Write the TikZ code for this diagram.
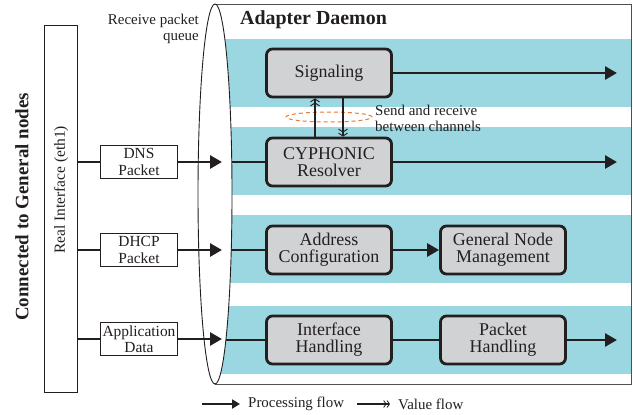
\documentclass[tikz,border=0pt]{standalone}
\usepackage{fontspec}
\setmainfont{Liberation Serif}
\usetikzlibrary{arrows.meta,calc,shapes.geometric}
\definecolor{band}{RGB}{155,215,224}
\definecolor{boxgray}{RGB}{209,210,212}
\definecolor{txt}{RGB}{35,31,32}
\definecolor{dashor}{RGB}{232,120,50}
\definecolor{framecol}{RGB}{80,80,80}
\begin{document}
\begin{tikzpicture}[x=1bp,y=-1bp,
  bigbox/.style={draw=txt, fill=boxgray, line width=2.8bp, rounded corners=6bp,
    minimum width=125bp, minimum height=48bp, align=center, inner sep=0pt,
    font=\rmfamily\fontsize{18}{17}\selectfont, text=txt},
  smallbox/.style={draw=txt, fill=white, line width=1.3bp, minimum width=77bp,
    minimum height=33bp, align=center, inner sep=0pt,
    font=\rmfamily\fontsize{15.5}{16.5}\selectfont, text=txt},
  pline/.style={draw=txt, line width=2.8bp},
  pflow/.style={draw=txt, line width=2.8bp, -{Triangle[length=12bp,width=13bp]}},
  vflow/.style={draw=txt, line width=2.8bp,
    -{Straight Barb[length=3bp,width=9bp,line width=0.9bp]Straight Barb[length=3bp,width=9bp,line width=0.9bp]}},
  lbl/.style={text=txt, inner sep=0pt, font=\rmfamily\fontsize{15}{16}\selectfont}
]
\useasboundingbox (0,0) rectangle (633,414);

% bands
\fill[band] (215,39) rectangle (631,107);
\fill[band] (215,127) rectangle (631,195);
\fill[band] (215,215) rectangle (631,283);
\fill[band] (215,306) rectangle (631,374);

% daemon frame and queue ellipse
\draw[framecol, line width=1bp] (215,4) -- (631,4) -- (631,384) -- (215,384);
\draw[txt, fill=white, line width=0.9bp] (215,194) ellipse [x radius=17bp, y radius=190bp];

% real interface
\node[draw=txt, line width=1.3bp, minimum width=33bp, minimum height=367bp, inner sep=0pt] (ri) at (61,209) {};
\node[text=txt, inner sep=0pt, rotate=90, font=\rmfamily\fontsize{15.5}{16}\selectfont] (ritxt) at (61,190) {Real Interface (eth1)};
\node[text=txt, inner sep=0pt, rotate=90, font=\rmfamily\fontsize{19}{20}\selectfont\bfseries] (conn) at (22,207) {Connected to General nodes};

% labels
\node[lbl, anchor=east, align=right] (rpq) at (199,29) {Receive packet\\queue};
\node[lbl, anchor=west, font=\rmfamily\fontsize{20}{22}\selectfont\bfseries] (ad) at (240,20) {Adapter Daemon};
\node[lbl, anchor=west, align=left] (sr) at (375,118) {Send and receive\\between channels};

% small boxes
\node[smallbox] (dns) at (139,162) {DNS\\Packet};
\node[smallbox] (dhcp) at (139,250) {DHCP\\Packet};
\node[smallbox] (app) at (139,339) {Application\\Data};

% big boxes
\node[draw=dashor, dashed, line width=1bp, ellipse, minimum width=86bp, minimum height=10bp, inner sep=0pt, dash pattern=on 4bp off 3bp] (chan) at (329,117) {};
\node[bigbox] (sig) at (329,73) {Signaling};
\node[bigbox] (cyp) at (329,162) {CYPHONIC\\Resolver};
\node[bigbox] (addr) at (329,250) {Address\\Configuration};
\node[bigbox] (gnm) at (503,250) {General Node\\Management};
\node[bigbox] (ifh) at (329,340) {Interface\\Handling};
\node[bigbox] (pkh) at (503,340) {Packet\\Handling};

% coordinates
\coordinate (q1) at (222,162);
\coordinate (q2) at (222,250);
\coordinate (q3) at (222,339);
\coordinate (e1) at (231.7,162);
\coordinate (e2) at (231.2,250);
\coordinate (e3) at (225.9,340);
\coordinate (o1) at (617,73);
\coordinate (o2) at (617,162);
\coordinate (o3) at (617,340);

% input flows
\draw[pline] (ri.east |- dns.west) -- (dns.west);
\draw[pline] (ri.east |- dhcp.west) -- (dhcp.west);
\draw[pline] (ri.east |- app.west) -- (app.west);
\draw[pflow] (dns.east) -- (q1);
\draw[pflow] (dhcp.east) -- (q2);
\draw[pflow] (app.east) -- (q3);
\draw[pline] (e1) -- (cyp.west);
\draw[pline] (e2) -- (addr.west);
\draw[pline] (e3) -- (ifh.west);

% internal flows
\draw[pflow] (sig.east) -- (o1);
\draw[pflow] (cyp.east) -- (o2);
\draw[pflow] (addr.east) -- (gnm.west);
\draw[pline] (ifh.east) -- (pkh.west);
\draw[pflow] (pkh.east) -- (o3);
\draw[vflow] ([xshift=-14bp]cyp.north) -- ([xshift=-14bp]sig.south);
\draw[vflow] ([xshift=14bp]sig.south) -- ([xshift=14bp]cyp.north);

% legend
\coordinate (l1a) at (202,404);
\coordinate (l1b) at (240,404);
\coordinate (l2a) at (357,404);
\coordinate (l2b) at (390,404);
\draw[draw=txt, line width=2.5bp, -{Triangle[length=8bp,width=9bp]}] (l1a) -- (l1b);
\node[lbl, anchor=west] (lp) at (248,404) {Processing flow};
\draw[draw=txt, line width=2.5bp, -{Straight Barb[length=2.5bp,width=7bp,line width=0.8bp]Straight Barb[length=2.5bp,width=7bp,line width=0.8bp]}] (l2a) -- (l2b);
\node[lbl, anchor=west] (lv) at (398,404) {Value flow};
\end{tikzpicture}
\end{document}
